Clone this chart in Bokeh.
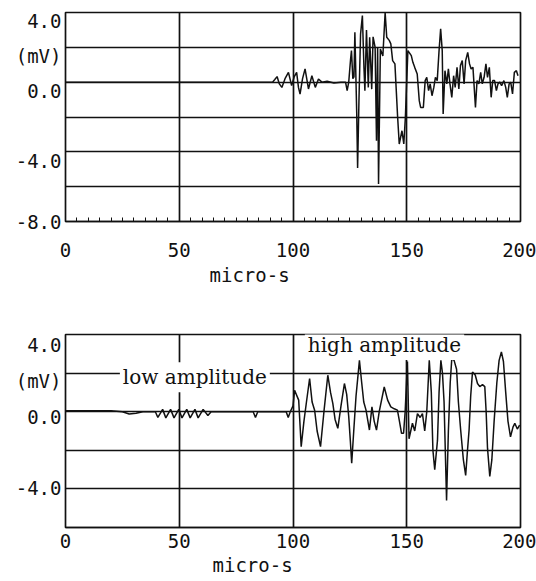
from bokeh.plotting import figure
from bokeh.layouts import column
from bokeh.models import FixedTicker, Label, Range1d, LinearAxis, Title
from bokeh.embed import file_html
from bokeh.resources import INLINE

# ---------------- data ----------------
x_ticks = [0, 50, 100, 150, 200]
x_minor_ticks = [0, 5, 10, 15, 20, 25, 30, 35, 40, 45, 50, 55, 60, 65, 70, 75, 80, 85, 90, 95, 100,
                 105, 110, 115, 120, 125, 130, 135, 140, 145, 150, 155, 160, 165, 170, 175, 180, 185, 190, 195, 200]
x_grid = [50, 100, 150]
x_title = "micro-s"

top_y_ticks = [4, 2, 0, -4, -8]
top_y_labels = ["4.0", "(mV)", "0.0", "-4.0", "-8.0"]
top_y_grid = [2, 0, -2, -4, -6]

bot_y_ticks = [4, 2, 0, -4]
bot_y_labels = ["4.0", "(mV)", "0.0", "-4.0"]
bot_y_grid = [2, 0, -2, -4]

top_t = [0, 91.0, 92.0, 93.0, 94.0, 95.1, 96.5, 98.0, 99.4, 100.5, 101.6, 102.4, 103.1, 104.2, 105.3,
         106.8, 108.3, 109.8, 111.2, 112.7, 115.0, 118.0, 121.0, 123.1, 123.8, 124.5, 125.3, 125.7,
         126.3, 126.8, 127.2, 128.0, 128.4, 129.0, 129.7, 130.5, 131.2, 131.6, 132.3, 133.1, 133.7,
         134.6, 135.2, 136.1, 136.7, 137.2, 137.6, 138.4, 139.5, 140.5, 141.2, 142.3, 143.0, 143.8,
         144.8, 146.0, 146.7, 147.9, 148.7, 149.4, 150.5, 152.0, 152.7, 153.5, 154.6, 155.5, 156.1,
         157.3, 158.1, 158.8, 159.6, 160.3, 161.1, 161.9, 162.6, 163.4, 164.2, 164.9, 165.6, 166.0,
         166.8, 167.6, 168.3, 169.0, 169.8, 170.6, 171.3, 172.1, 172.9, 173.6, 174.4, 175.2, 175.9,
         176.8, 177.6, 178.3, 179.1, 180.2, 180.9, 181.7, 182.5, 183.2, 184.0, 184.8, 185.5, 186.3,
         187.1, 187.8, 188.6, 189.4, 190.1, 190.9, 191.7, 192.7, 193.5, 194.2, 195.0, 195.7, 196.5,
         197.3, 198.2, 198.9]
top_v = [0, 0, 0.15, 0.32, -0.1, -0.30, 0.2, 0.56, -0.20, 0.3, 0.56, -0.3, -0.68, 0.2, 0.76,
         -0.39, 0.37, -0.30, 0.18, 0.0, 0.05, -0.05, 0.0, 0.0, -0.49, 0.0, 1.3, 1.81,
         0.2, 0.3, 2.86, -1.72, -4.93, -1.0, 2.76, 3.82, 0.8, -0.49, 3.0, -0.3, 2.58,
         -0.4, 2.6, 2.0, -3.36, 2.0, -5.85, 1.9, 1.5, 4.0, 2.58, 2.4, 2.2, 1.24,
         1.05, -2.02, -3.55, -2.79, -3.55, -2.02, 1.81, 1.52, 1.14, 0.85, 0.47, -1.06, -1.45,
         -1.45, 0.09, 0.28, -0.49, -0.1, -0.78, -0.3, 0.28, 0.09, 1.81, 3.06, 1.81, -1.83,
         0.66, -0.1, 0.76, -0.1, -0.87, 0.37, -0.3, 0.85, -0.39, 0.95, 1.24, -0.1, 1.24,
         1.71, 1.05, 0.76, 0.85, -1.45, 0.09, -0.1, 0.56, -0.1, 0.28, 1.05, 0.28, 0.85,
         -0.87, 0.09, 0.09, -0.49, -0.1, 0.0, -0.2, 0.09, -0.3, -0.87, -0.1, 0.0, -0.68,
         0.56, 0.66, 0.37]

bot_t = [0, 20, 25, 28, 31, 34, 39.5, 40.6, 42.7, 44.1, 46.2, 47.7, 49.8, 51.2, 53.3, 54.8, 56.9,
         58.3, 60.5, 62.6, 64.0, 82.5, 83.5, 84.5, 97.0, 97.9, 98.8, 100.0, 100.7, 101.9, 102.5,
         103.6, 104.8, 105.8, 107.3, 108.4, 109.5, 110.6, 112.1, 113.6, 115.3, 116.5, 117.5, 118.5,
         119.7, 121.1, 122.6, 123.6, 124.5, 125.2, 125.8, 126.7, 127.7, 129.2, 130.2, 131.1, 132.1,
         133.6, 134.7, 135.7, 136.7, 137.9, 140.1, 141.6, 143.0, 144.5, 145.9, 146.8, 147.7, 148.6,
         149.3, 150.3, 151.0, 152.5, 153.5, 154.7, 155.9, 156.9, 157.9, 158.8, 159.9, 160.8, 161.5,
         162.3, 163.5, 164.2, 165.0, 165.7, 166.4, 167.5, 168.3, 169.1, 169.8, 170.8, 171.9, 172.7,
         173.7, 174.9, 175.9, 176.7, 177.4, 178.1, 178.9, 180.1, 181.1, 182.1, 183.3, 184.3, 184.9,
         185.5, 186.5, 187.4, 188.4, 189.6, 190.6, 191.6, 192.5, 193.5, 194.5, 195.6, 196.7, 197.5,
         198.6, 199.6]
bot_v = [0.05, 0.05, 0.0, -0.12, -0.08, 0.0, 0.0, -0.3, 0.12, -0.32, 0.12, -0.32, 0.12, -0.32, 0.12,
         -0.32, 0.12, -0.32, 0.12, -0.2, 0.0, 0.0, -0.3, 0.0, 0.0, -0.3, 0.0, 0.3, 1.11, 0.77, 0.6,
         -1.81, -0.5, 0.4, 1.72, 0.5, 0.08, -1.0, -1.81, 0.0, 1.89, 1.0, 0.43, -0.4, -0.86, 0.3,
         1.46, 0.9, -0.26, -1.5, -2.67, -1.0, 0.8, 2.66, 1.5, 0.5, 0.08, -0.95, 0.25, -0.5, -0.95,
         0.0, 1.28, 0.6, 0.25, 0.15, 0.08, -0.5, -1.12, -1.12, 0.0, 2.6, -1.4, -0.6, -1.0, -0.1,
         -0.3, -0.1, -1.0, 0.0, 2.66, 1.0, -2.0, -3.0, -1.5, 1.0, 2.66, 2.0, 0.5, -4.6, -1.0, 1.5,
         2.75, 2.66, 2.2, 0.5, -0.95, -2.5, -3.3, -2.0, -0.95, 0.8, 2.06, 1.9, 1.46, 1.3, 1.4, 1.3,
         0.0, -1.89, -3.35, -2.5, -0.5, 1.5, 2.66, 3.1, 2.6, 1.0, -0.5, -1.3, -0.8, -0.6, -0.9, -0.7]

annotations = ["low amplitude", "high amplitude"]
annotation_x = [23.9, 105.2]
annotation_y = [1.78, 3.45]

INK = "#111111"
MONO = "DejaVu Sans Mono"
SERIF = "DejaVu Serif"
FS = "19px"


def style_common(p, y_grid):
    p.background_fill_color = "white"
    p.border_fill_color = "white"
    p.outline_line_color = INK
    p.outline_line_width = 1.7
    p.xgrid.ticker = FixedTicker(ticks=x_grid)
    p.ygrid.ticker = FixedTicker(ticks=y_grid)
    for g in (p.xgrid, p.ygrid):
        g.grid_line_color = INK
        g.grid_line_width = 1.7
        g.grid_line_alpha = 1.0
    xa = p.xaxis[0]
    xa.axis_line_color = INK
    xa.axis_line_width = 1.7
    xa.major_label_text_font = MONO
    xa.major_label_text_font_size = FS
    xa.major_label_text_color = INK
    xa.major_tick_out = 0
    xa.minor_tick_out = 0
    xa.major_tick_line_color = INK
    xa.minor_tick_line_color = INK


def label_axis(p, range_name, ticks, labels, shift, low):
    # label positions nudged downward a little, as in the scanned original
    pos = [max(t - shift, low) for t in ticks]
    ax = LinearAxis(y_range_name=range_name, ticker=FixedTicker(ticks=pos))
    ax.major_label_overrides = {k: v for k, v in zip(pos, labels)}
    ax.major_tick_in = 0
    ax.major_tick_out = 0
    ax.minor_tick_in = 0
    ax.minor_tick_out = 0
    ax.axis_line_color = None
    ax.major_label_text_font = MONO
    ax.major_label_text_font_size = FS
    ax.major_label_text_color = INK
    ax.major_label_standoff = 4
    p.add_layout(ax, "left")


def x_title_panel(p, offset, standoff):
    t = Title(text=x_title, align="left", offset=offset, standoff=standoff,
              text_font=MONO, text_font_size=FS, text_font_style="normal", text_color=INK)
    p.add_layout(t, "below")


# ---------------- top chart ----------------
p1 = figure(width=536, height=291, output_backend="svg", toolbar_location=None,
            x_range=Range1d(0, 200), y_range=Range1d(-8, 4), y_axis_location=None,
            min_border_left=65, min_border_right=16, min_border_top=12, min_border_bottom=70)
p1.extra_y_ranges = {"lab": Range1d(-8, 4)}
style_common(p1, top_y_grid)
xa = p1.xaxis[0]
xa.ticker = FixedTicker(ticks=x_ticks, minor_ticks=x_minor_ticks)
xa.major_tick_in = 5
xa.minor_tick_in = 4
xa.major_label_standoff = 21
label_axis(p1, "lab", top_y_ticks, top_y_labels, 0.5, -8)
p1.line(top_t, top_v, line_color=INK, line_width=1.5)
x_title_panel(p1, 144, 4)

# ---------------- bottom chart ----------------
p2 = figure(width=536, height=290, output_backend="svg", toolbar_location=None,
            x_range=Range1d(0, 200), y_range=Range1d(-6, 4), y_axis_location=None,
            min_border_left=62, min_border_right=14, min_border_top=43, min_border_bottom=54)
p2.extra_y_ranges = {"lab": Range1d(-6.24, 4.61)}
style_common(p2, bot_y_grid)
xb = p2.xaxis[0]
xb.ticker = FixedTicker(ticks=x_ticks)
xb.major_tick_in = 0
xb.minor_tick_in = 0
xb.major_label_standoff = 6
label_axis(p2, "lab", bot_y_ticks, bot_y_labels, 0.0, -6.24)
p2.line(bot_t, bot_v, line_color=INK, line_width=1.5)
x_title_panel(p2, 147, 3)

for txt, x, y in zip(annotations, annotation_x, annotation_y):
    lab = Label(x=x, y=y, text=txt, text_font=SERIF, text_font_size="20px", text_color=INK,
                text_align="left", text_baseline="alphabetic",
                background_fill_color="white", background_fill_alpha=1.0)
    try:
        lab.padding = 3
    except Exception:
        pass
    p2.add_layout(lab)

layout = column(p1, p2, spacing=0)
open("out.html", "w").write(file_html(layout, INLINE))
